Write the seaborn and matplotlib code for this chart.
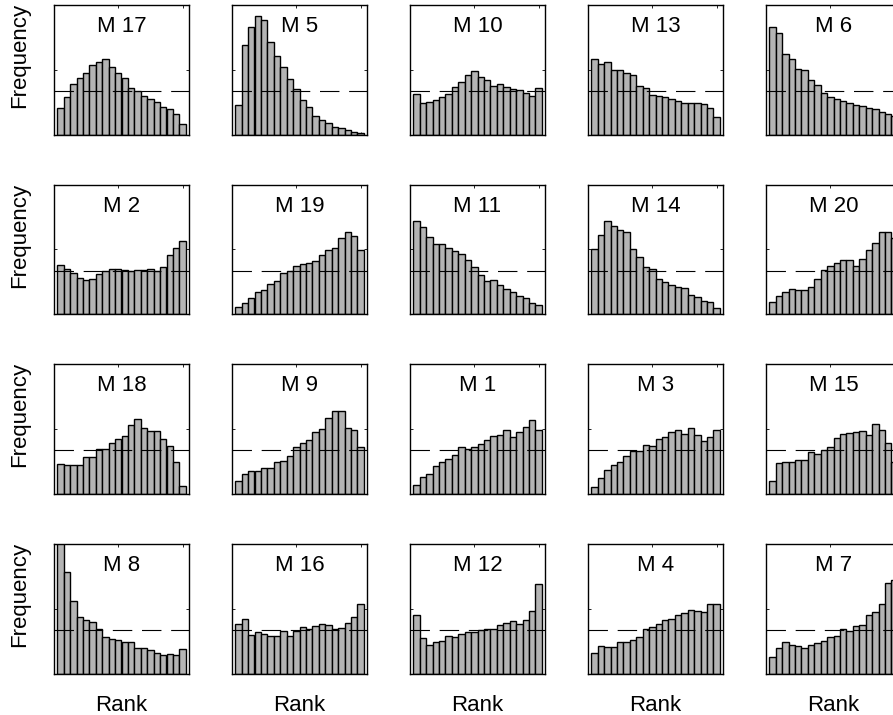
import numpy as np
import pandas as pd
import matplotlib
matplotlib.use("Agg")
import matplotlib.pyplot as plt
import seaborn as sns

# Rank histograms (relative frequency in %, 20 rank bins) for each model
ranks = list(range(1, 21))
expected = 5.0  # flat histogram level, 100 % / 20 bins

m17 = [3.1, 4.4, 5.8, 6.6, 7.1, 8.1, 8.4, 8.7, 7.8, 7.1, 6.5, 5.4, 5.0, 4.5, 4.1, 3.8, 3.2, 3.0, 2.4, 1.2]
m5 = [3.4, 10.4, 12.5, 13.7, 13.3, 10.7, 9.1, 7.8, 6.4, 5.3, 4.0, 3.2, 2.2, 1.7, 1.3, 0.9, 0.7, 0.5, 0.3, 0.2]
m10 = [4.7, 3.7, 3.8, 4.0, 4.3, 4.7, 5.5, 6.1, 6.9, 7.4, 6.7, 6.3, 5.6, 5.8, 5.5, 5.3, 5.1, 4.8, 4.5, 5.4]
m13 = [8.7, 8.2, 8.4, 7.5, 7.5, 7.1, 6.9, 5.6, 5.4, 4.6, 4.5, 4.4, 4.1, 3.9, 3.6, 3.6, 3.6, 3.5, 3.1, 2.0]
m6 = [12.4, 11.8, 9.3, 8.8, 7.6, 7.5, 6.3, 5.7, 4.8, 4.3, 4.1, 3.9, 3.6, 3.4, 3.3, 3.1, 2.9, 2.6, 2.4, 2.2]

m2 = [5.7, 5.2, 4.7, 4.2, 3.9, 4.1, 4.6, 5.0, 5.2, 5.2, 5.1, 5.0, 5.1, 5.1, 5.2, 5.0, 5.5, 6.8, 7.6, 8.5]
m19 = [0.8, 1.3, 1.9, 2.6, 2.8, 3.5, 3.8, 4.7, 5.0, 5.6, 5.8, 5.9, 6.1, 6.8, 7.4, 7.6, 8.8, 9.5, 9.0, 7.4]
m11 = [10.8, 10.1, 8.9, 8.1, 8.1, 7.6, 7.3, 6.9, 6.3, 5.4, 4.5, 3.8, 3.9, 3.4, 2.9, 2.5, 2.1, 1.9, 1.3, 1.0]
m14 = [7.5, 9.2, 10.8, 10.2, 9.7, 9.5, 7.5, 6.6, 5.5, 5.2, 4.1, 3.7, 3.4, 3.1, 3.0, 2.2, 2.0, 1.5, 1.4, 0.7]
m20 = [1.4, 2.1, 2.6, 2.9, 2.8, 2.8, 3.1, 4.1, 5.1, 5.6, 5.9, 6.2, 6.2, 5.6, 6.4, 7.4, 8.2, 9.5, 9.5, 8.8]

m18 = [3.4, 3.3, 3.3, 3.3, 4.2, 4.2, 5.1, 5.2, 5.9, 6.3, 6.7, 7.9, 8.6, 7.6, 7.2, 7.2, 6.3, 5.5, 3.6, 0.9]
m9 = [1.5, 2.3, 2.6, 2.6, 2.9, 2.9, 3.6, 3.8, 4.3, 5.4, 5.8, 6.2, 7.1, 7.5, 8.7, 9.5, 9.5, 7.6, 7.3, 5.4]
m1 = [1.0, 1.9, 2.3, 3.2, 3.6, 4.0, 4.5, 5.4, 5.2, 5.4, 5.7, 6.2, 6.7, 6.8, 7.3, 6.6, 7.1, 7.7, 8.5, 7.3]
m3 = [0.7, 1.8, 2.7, 3.3, 3.7, 4.3, 4.9, 4.9, 5.6, 5.5, 6.3, 6.6, 7.1, 7.4, 6.9, 7.6, 6.8, 6.1, 6.6, 7.4]
m15 = [1.4, 3.5, 3.7, 3.7, 3.9, 3.9, 4.8, 4.6, 5.0, 5.4, 6.4, 6.9, 7.0, 7.1, 7.2, 6.8, 8.0, 7.3, 5.8, 3.6]

m8 = [16.0, 11.7, 8.4, 6.6, 6.2, 6.0, 5.2, 4.2, 4.0, 3.9, 3.7, 3.6, 3.0, 3.0, 2.7, 2.4, 2.1, 2.3, 2.2, 2.8]
m16 = [5.7, 6.3, 4.5, 4.8, 4.6, 4.4, 4.4, 4.9, 4.4, 4.9, 5.4, 5.1, 5.5, 5.7, 5.6, 5.2, 5.3, 5.8, 6.5, 8.1]
m12 = [6.8, 4.1, 3.3, 3.7, 3.8, 4.4, 4.2, 4.6, 4.8, 4.8, 5.0, 5.1, 5.2, 5.6, 5.9, 6.1, 5.7, 6.2, 7.2, 10.4]
m4 = [2.4, 3.2, 3.1, 3.1, 3.6, 3.6, 3.9, 4.2, 5.1, 5.4, 5.7, 6.2, 6.3, 6.8, 7.0, 7.3, 7.2, 7.1, 8.0, 8.1]
m7 = [1.9, 3.0, 3.6, 3.3, 3.2, 3.0, 3.3, 3.5, 3.8, 4.2, 4.4, 5.1, 4.9, 5.5, 5.6, 6.8, 7.1, 8.1, 10.5, 10.8]

panel_titles = [
    ["M 17", "M 5", "M 10", "M 13", "M 6"],
    ["M 2", "M 19", "M 11", "M 14", "M 20"],
    ["M 18", "M 9", "M 1", "M 3", "M 15"],
    ["M 8", "M 16", "M 12", "M 4", "M 7"],
]
panel_values = [
    [m17, m5, m10, m13, m6],
    [m2, m19, m11, m14, m20],
    [m18, m9, m1, m3, m15],
    [m8, m16, m12, m4, m7],
]

sns.set_style("white")
plt.rcParams["font.family"] = ["Liberation Sans", "DejaVu Sans"]
plt.rcParams["text.color"] = "black"
plt.rcParams["lines.scale_dashes"] = False

W, H = 893, 715
fig = plt.figure(figsize=(W / 100, H / 100), dpi=100)

col_left = [54, 232, 410, 588, 766]
row_top = [5, 184.5, 364, 544]
pw, ph = 135, 129.5

bar_color = "#b4b4b4"

for r in range(4):
    for c in range(5):
        x0, y0 = col_left[c], row_top[r]
        ax = fig.add_axes([x0 / W, 1 - (y0 + ph) / H, pw / W, ph / H])
        df = pd.DataFrame({"rank": ranks, "freq": panel_values[r][c]})
        sns.barplot(data=df, x="rank", y="freq", native_scale=True, width=1.0,
                    color=bar_color, saturation=1, edgecolor="black",
                    linewidth=1.0, errorbar=None, ax=ax, zorder=2)
        ax.axhline(expected, color="black", lw=0.8, linestyle=(0, (14, 7)), zorder=3)
        ax.set_xlim(0, 21)
        ax.set_ylim(0, 15)
        ax.set_xticks([0, 10, 20])
        ax.set_yticks([0, 7.5, 15])
        ax.tick_params(direction="in", length=2.5, width=0.6, top=True, right=True,
                       bottom=True, left=True, labelbottom=False, labelleft=False,
                       color="black")
        ax.set_xlabel("")
        ax.set_ylabel("")
        for s in ax.spines.values():
            s.set_visible(True)
            s.set_color("black")
            s.set_linewidth(1.0)
        ax.text(0.5, 0.79, panel_titles[r][c], transform=ax.transAxes,
                ha="center", va="baseline", fontsize=16, color="black", zorder=5)
        if c == 0:
            fig.text(20 / W, 1 - (y0 + ph / 2 - 14) / H, "Frequency", rotation=90,
                     ha="center", va="center", fontsize=16, color="black")
        if r == 3:
            fig.text((x0 + pw / 2) / W, 1 - 711 / H, "Rank", ha="center",
                     va="baseline", fontsize=16, color="black")

fig.savefig("out.png", dpi=100)
